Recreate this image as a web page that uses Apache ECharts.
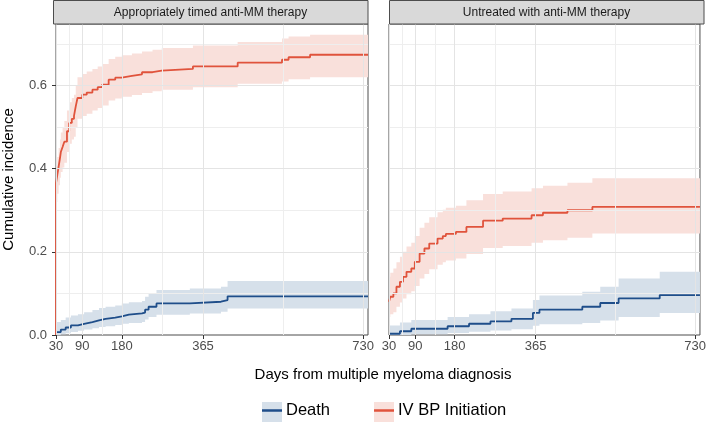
<!DOCTYPE html>
<html><head><meta charset="utf-8">
<script src="https://cdn.jsdelivr.net/npm/echarts@6/dist/echarts.min.js"></script>
<style>html,body{margin:0;padding:0;background:#fff}#c{width:709px;height:422px}</style>
</head><body><div id="c"></div>
<script>
// ---------- data ----------
var panelTitles = ['Appropriately timed anti-MM therapy', 'Untreated with anti-MM therapy'];
var seriesNames = ['Death', 'IV BP Initiation'];
var xTitle = 'Days from multiple myeloma diagnosis';
var yTitle = 'Cumulative incidence';
var xTicks = [30, 90, 180, 365, 730];
var xMinorGrid = [60, 135, 272.5, 547.5];
var yTicks = [0, 0.2, 0.4, 0.6];
var yMinorGrid = [0.1, 0.3, 0.5, 0.7];
var xMin = 30, xMax = 741, yMax = 0.748;

// Panel 1: Appropriately timed anti-MM therapy
var p1DeathDays = [30, 41, 52, 64, 80, 94, 113, 128, 143, 165, 180, 196, 226, 233, 241, 259, 335, 406, 421, 741];
var p1DeathEst  = [0.007, 0.013, 0.018, 0.023, 0.027, 0.031, 0.035, 0.039, 0.042, 0.045, 0.049, 0.052, 0.054, 0.061, 0.068, 0.076, 0.080, 0.084, 0.093, 0.093];
var p1DeathLo   = [0.000, 0.002, 0.004, 0.007, 0.010, 0.013, 0.016, 0.019, 0.021, 0.024, 0.027, 0.029, 0.031, 0.037, 0.043, 0.049, 0.052, 0.056, 0.064, 0.064];
var p1DeathHi   = [0.031, 0.036, 0.042, 0.047, 0.050, 0.055, 0.060, 0.065, 0.068, 0.071, 0.076, 0.079, 0.082, 0.092, 0.100, 0.108, 0.112, 0.116, 0.130, 0.130];

var p1IvbpDays = [30, 30, 33, 36, 39, 41, 45, 49, 55, 60, 66, 71, 75, 79, 90, 100, 113, 125, 135, 150, 165, 180, 203, 226, 250, 271, 342, 444, 545, 560, 609, 741];
var p1IvbpEst  = [0, 0.365, 0.385, 0.405, 0.425, 0.440, 0.452, 0.465, 0.490, 0.510, 0.520, 0.527, 0.550, 0.570, 0.578, 0.583, 0.590, 0.596, 0.602, 0.614, 0.619, 0.623, 0.627, 0.632, 0.636, 0.640, 0.646, 0.655, 0.662, 0.668, 0.674, 0.674];
var p1IvbpLo   = [0, 0.320, 0.340, 0.360, 0.378, 0.392, 0.403, 0.414, 0.440, 0.460, 0.470, 0.477, 0.500, 0.520, 0.527, 0.532, 0.540, 0.546, 0.552, 0.564, 0.569, 0.573, 0.577, 0.582, 0.586, 0.590, 0.596, 0.604, 0.610, 0.615, 0.620, 0.620];
var p1IvbpHi   = [0, 0.405, 0.428, 0.450, 0.470, 0.487, 0.500, 0.515, 0.540, 0.560, 0.570, 0.578, 0.600, 0.620, 0.628, 0.634, 0.640, 0.646, 0.652, 0.664, 0.669, 0.673, 0.677, 0.682, 0.686, 0.690, 0.696, 0.705, 0.713, 0.718, 0.722, 0.722];

// Panel 2: Untreated with anti-MM therapy
var p2DeathDays = [30, 55, 81, 164, 213, 262, 310, 359, 374, 472, 513, 555, 649, 741];
var p2DeathEst  = [0.003, 0.009, 0.015, 0.021, 0.027, 0.033, 0.039, 0.053, 0.061, 0.068, 0.077, 0.088, 0.096, 0.096];
var p2DeathLo   = [0.000, 0.000, 0.002, 0.005, 0.008, 0.011, 0.014, 0.022, 0.026, 0.029, 0.035, 0.043, 0.053, 0.053];
var p2DeathHi   = [0.023, 0.030, 0.036, 0.043, 0.050, 0.057, 0.064, 0.084, 0.095, 0.104, 0.116, 0.136, 0.152, 0.152];

var p2IvbpDays = [30, 33, 40, 47, 55, 62, 70, 81, 89, 100, 111, 122, 141, 153, 160, 183, 207, 245, 290, 356, 382, 438, 495, 741];
var p2IvbpEst  = [0.080, 0.092, 0.100, 0.116, 0.128, 0.140, 0.152, 0.160, 0.176, 0.196, 0.208, 0.220, 0.232, 0.238, 0.243, 0.248, 0.260, 0.275, 0.280, 0.288, 0.294, 0.300, 0.308, 0.308];
var p2IvbpLo   = [0.043, 0.050, 0.055, 0.068, 0.078, 0.088, 0.098, 0.105, 0.118, 0.136, 0.147, 0.158, 0.169, 0.175, 0.179, 0.184, 0.195, 0.209, 0.214, 0.222, 0.228, 0.234, 0.244, 0.244];
var p2IvbpHi   = [0.140, 0.150, 0.160, 0.175, 0.188, 0.200, 0.213, 0.222, 0.238, 0.258, 0.270, 0.283, 0.295, 0.301, 0.306, 0.311, 0.324, 0.339, 0.345, 0.353, 0.359, 0.366, 0.377, 0.377];

// ---------- styling ----------
var FONT = 'Liberation Sans, Arial, Helvetica, sans-serif';
var colDeath = '#1F4E8A', colIvbp = '#E0533C';
var fillDeath = '#D6E0EA', fillIvbp = '#F9E0DB';
var borderCol = '#4d4d4d';
var gridMajor = '#e4e4e4', gridMinor = '#eeeeee';

var grids = [
  {left: 53, right: 341, top: 24, bottom: 87},
  {left: 389, right: 5, top: 24, bottom: 87}
];

function zip(d, v) { return d.map(function (x, i) { return [x, v[i]]; }); }

function band(idx, days, lo, hi, color) {
  return {
    type: 'custom', xAxisIndex: idx, yAxisIndex: idx, silent: true, z: 1,
    data: [[days[0], lo[0]]],
    renderItem: function (params, api) {
      var pts = [], i, xn;
      for (i = 0; i < days.length; i++) {
        xn = i + 1 < days.length ? days[i + 1] : days[i];
        pts.push(api.coord([days[i], hi[i]]));
        pts.push(api.coord([xn, hi[i]]));
      }
      for (i = days.length - 1; i >= 0; i--) {
        xn = i + 1 < days.length ? days[i + 1] : days[i];
        pts.push(api.coord([xn, lo[i]]));
        pts.push(api.coord([days[i], lo[i]]));
      }
      return {type: 'polygon', shape: {points: pts}, style: {fill: color, stroke: null}};
    }
  };
}

function stepLine(idx, name, days, est, color) {
  return {
    type: 'line', name: name, xAxisIndex: idx, yAxisIndex: idx, step: 'end',
    showSymbol: false, symbol: 'none', z: 3, silent: true, clip: false,
    lineStyle: {color: color, width: 1.8}, itemStyle: {color: color},
    data: zip(days, est)
  };
}

function gridLines(idx) {
  var d = [];
  xMinorGrid.forEach(function (v) { d.push({xAxis: v, lineStyle: {color: gridMinor, width: 1}}); });
  yMinorGrid.forEach(function (v) { d.push({yAxis: v, lineStyle: {color: gridMinor, width: 1}}); });
  xTicks.forEach(function (v) { d.push({xAxis: v, lineStyle: {color: gridMajor, width: 1}}); });
  yTicks.slice(1).forEach(function (v) { d.push({yAxis: v, lineStyle: {color: gridMajor, width: 1}}); });
  return {
    type: 'line', xAxisIndex: idx, yAxisIndex: idx, z: 0, silent: true,
    data: [[xMin, 0]], showSymbol: false, symbol: 'none', lineStyle: {opacity: 0},
    markLine: {silent: true, symbol: ['none', 'none'], label: {show: false}, animation: false,
      lineStyle: {type: 'solid'}, data: d}
  };
}

function xAxis(idx) {
  return {
    type: 'value', gridIndex: idx, min: xMin, max: xMax,
    splitLine: {show: false}, axisLine: {show: false},
    axisTick: {show: true, customValues: xTicks, length: 4, lineStyle: {color: '#333'}},
    axisLabel: {customValues: xTicks, color: '#4d4d4d', fontSize: 13, fontFamily: FONT, margin: 5}
  };
}

function yAxis(idx) {
  var a = {
    type: 'value', gridIndex: idx, min: 0, max: yMax,
    splitLine: {show: false}, axisLine: {show: false},
    axisTick: {show: idx === 0, customValues: yTicks, length: 4, lineStyle: {color: '#333'}},
    axisLabel: {show: idx === 0, customValues: yTicks, color: '#4d4d4d', fontSize: 13, fontFamily: FONT, margin: 9,
      formatter: function (v) { return v.toFixed(1); }}
  };
  if (idx === 0) {
    a.name = yTitle; a.nameLocation = 'middle'; a.nameGap = 40;
    a.nameTextStyle = {fontSize: 15, color: '#000', fontFamily: FONT};
  }
  return a;
}

var graphics = [];
grids.forEach(function (g, i) {
  var x0 = g.left, w = 709 - g.right - g.left;
  graphics.push({type: 'rect', z: 10, shape: {x: x0 + 0.5, y: 0.5, width: w - 0.5, height: 23.5},
    style: {fill: '#d9d9d9', stroke: borderCol, lineWidth: 1}});
  graphics.push({type: 'text', z: 11, x: x0 + w / 2, y: 12.5,
    style: {text: panelTitles[i], fill: '#1a1a1a', fontSize: 12, fontFamily: FONT, align: 'center', verticalAlign: 'middle'}});
});
graphics.push({type: 'text', x: 383, y: 375,
  style: {text: xTitle, fill: '#000', fontSize: 15, fontFamily: FONT, align: 'center', verticalAlign: 'middle'}});
graphics.push({type: 'rect', z: 0, shape: {x: 262, y: 402, width: 20, height: 20}, style: {fill: fillDeath}});
graphics.push({type: 'rect', z: 0, shape: {x: 374, y: 402, width: 20, height: 20}, style: {fill: fillIvbp}});

var option = {
  animation: false,
  backgroundColor: '#fff',
  grid: grids.map(function (g) {
    return {left: g.left, right: g.right, top: g.top, bottom: g.bottom, show: true,
      borderColor: borderCol, borderWidth: 1, backgroundColor: '#fff', containLabel: false};
  }),
  xAxis: [xAxis(0), xAxis(1)],
  yAxis: [yAxis(0), yAxis(1)],
  legend: {
    data: seriesNames, left: 262, top: 402, padding: 0, itemGap: 44,
    icon: 'rect', itemWidth: 20, itemHeight: 2.5, selectedMode: false,
    textStyle: {fontSize: 16.5, color: '#000', fontFamily: FONT, padding: [0, 0, 0, -1]}
  },
  graphic: graphics,
  series: [
    gridLines(0), gridLines(1),
    band(0, p1DeathDays, p1DeathLo, p1DeathHi, fillDeath),
    band(0, p1IvbpDays, p1IvbpLo, p1IvbpHi, fillIvbp),
    band(1, p2DeathDays, p2DeathLo, p2DeathHi, fillDeath),
    band(1, p2IvbpDays, p2IvbpLo, p2IvbpHi, fillIvbp),
    stepLine(0, seriesNames[0], p1DeathDays, p1DeathEst, colDeath),
    stepLine(0, seriesNames[1], p1IvbpDays, p1IvbpEst, colIvbp),
    stepLine(1, seriesNames[0], p2DeathDays, p2DeathEst, colDeath),
    stepLine(1, seriesNames[1], p2IvbpDays, p2IvbpEst, colIvbp)
  ]
};
var chart = echarts.init(document.getElementById('c'), null, {renderer: 'canvas'});
chart.setOption(option);
</script></body></html>
